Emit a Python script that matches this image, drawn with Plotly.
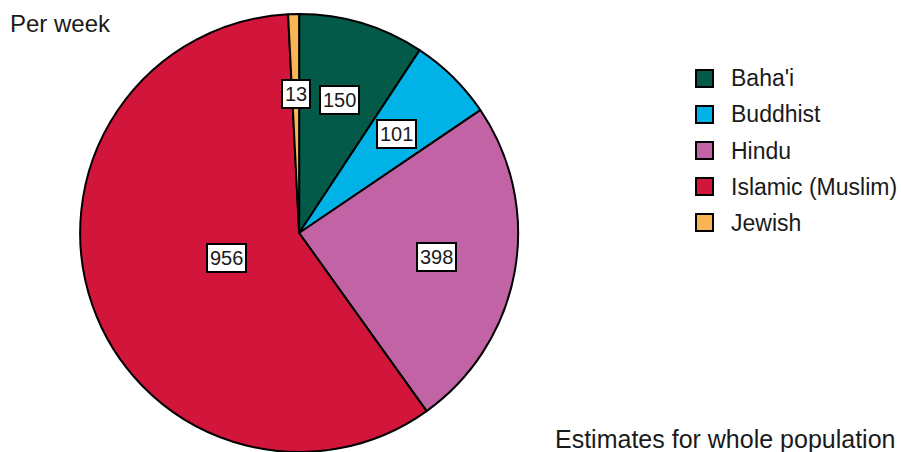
import math
import plotly.graph_objects as go

# Weekly attendance by religion (estimates for whole population)
religions = ["Baha'i", "Buddhist", "Hindu", "Islamic (Muslim)", "Jewish"]
per_week = [150, 101, 398, 956, 13]
colors = ["#035a48", "#00b2e5", "#c163a5", "#d2153a", "#f9b456"]

W, H = 901, 452
FONT = "Liberation Sans, Arial, sans-serif"

# pie geometry in paper coordinates
dom_x = [0.082, 0.582]
dom_y = [0.0, 0.969]
cx_px = (dom_x[0] + dom_x[1]) / 2 * W
cy_px = (dom_y[0] + dom_y[1]) / 2 * H
radius_px = (dom_y[1] - dom_y[0]) * H / 2

fig = go.Figure(go.Pie(
    labels=religions,
    values=per_week,
    sort=False,
    direction="clockwise",
    rotation=0,
    marker=dict(colors=colors, line=dict(color="black", width=2)),
    textinfo="none",
    hoverinfo="label+value",
    showlegend=False,
    domain=dict(x=dom_x, y=dom_y),
))

annotations = []
total = sum(per_week)
cum = 0.0
for name, v in zip(religions, per_week):
    mid = (cum + v / 2) / total * 2 * math.pi
    cum += v
    frac = 0.35 if v / total > 0.5 else 0.635
    px = cx_px + frac * radius_px * math.sin(mid)
    py = cy_px + frac * radius_px * math.cos(mid)
    annotations.append(dict(
        x=px / W, y=py / H, xref="paper", yref="paper",
        xanchor="center", yanchor="middle",
        text=str(v), showarrow=False,
        font=dict(family=FONT, size=20, color="#1a1a1a"),
        bgcolor="white", bordercolor="black", borderwidth=2, borderpad=2,
    ))

# legend drawn as swatches + labels
shapes = []
leg_x0, leg_top, leg_step, sw = 696, 70, 36, 17
for i, (name, c) in enumerate(zip(religions, colors)):
    y0 = leg_top + i * leg_step
    shapes.append(dict(
        type="rect", xref="paper", yref="paper",
        x0=leg_x0 / W, x1=(leg_x0 + sw) / W,
        y0=1 - (y0 + sw) / H, y1=1 - y0 / H,
        fillcolor=c, line=dict(color="black", width=2),
    ))
    annotations.append(dict(
        x=(leg_x0 + 33) / W, y=1 - (y0 + sw / 2) / H,
        xref="paper", yref="paper", xanchor="left", yanchor="middle",
        text=name, showarrow=False,
        font=dict(family=FONT, size=23, color="#1a1a1a"),
    ))

annotations.append(dict(
    x=8 / W, y=1 - 8 / H, xref="paper", yref="paper",
    xanchor="left", yanchor="top", text="Per week", showarrow=False,
    font=dict(family=FONT, size=24, color="#1a1a1a"),
))
annotations.append(dict(
    x=897 / W, y=1 - 455 / H, xref="paper", yref="paper",
    xanchor="right", yanchor="bottom", text="Estimates for whole population",
    showarrow=False, font=dict(family=FONT, size=25, color="#1a1a1a"),
))

fig.update_layout(
    width=W, height=H,
    margin=dict(l=0, r=0, t=0, b=0),
    paper_bgcolor="white", plot_bgcolor="white",
    annotations=annotations, shapes=shapes,
)

fig.write_html("out.html")
